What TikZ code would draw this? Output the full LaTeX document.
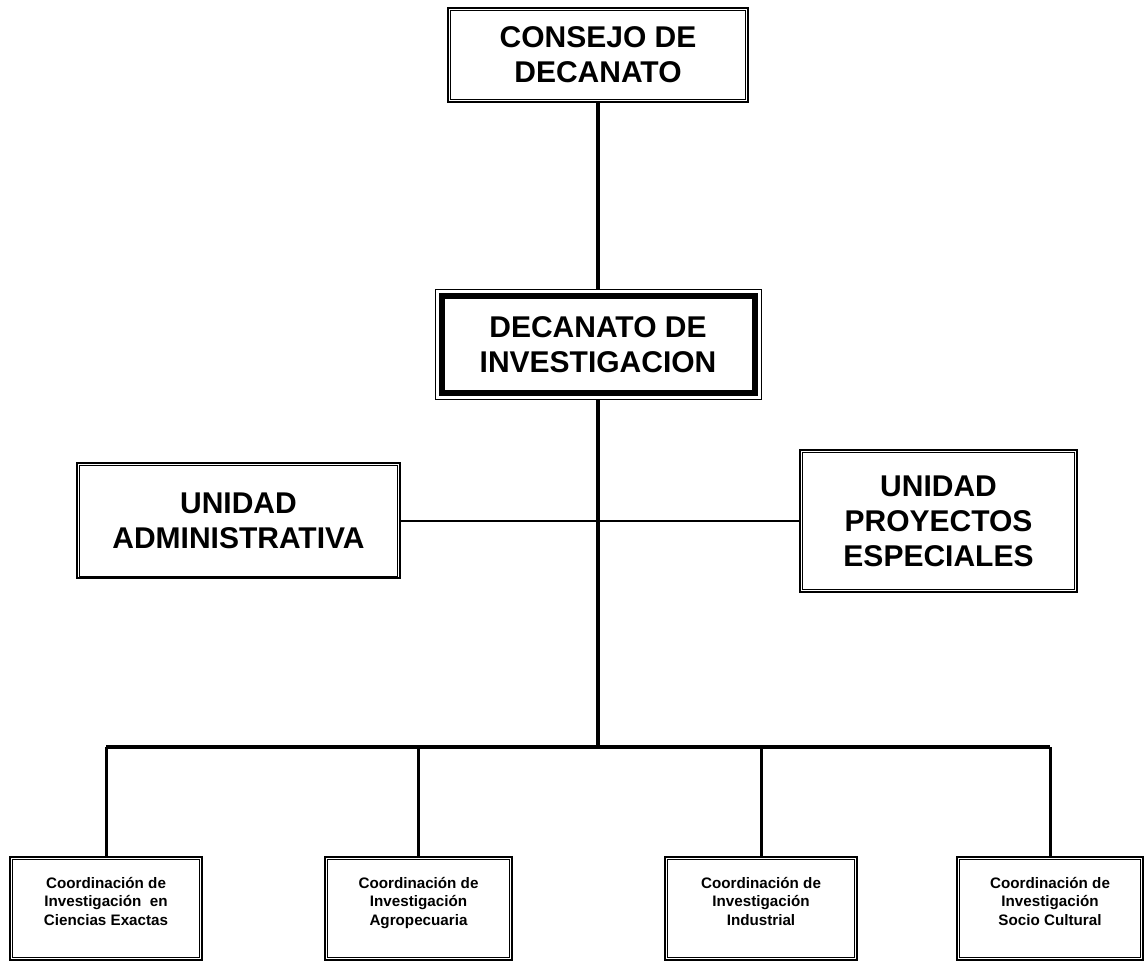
\documentclass[tikz,border=0pt]{standalone}
\usepackage{fontspec}
\setmainfont{Liberation Sans}
\tikzset{
  box/.style={draw, line width=1pt, align=center, inner sep=0pt,
    font=\fontsize{15}{17.5}\selectfont\bfseries},
  coord/.style={box, minimum height=51.5pt, text depth=7.5pt,
    font=\fontsize{7.6}{9.25}\selectfont\bfseries},
  inner/.style={line width=0.5pt},
  link/.style={line width=1.6pt},
  spine/.style={line width=2pt},
  unit/.style={line width=1pt},
  busline/.style={line width=2.3pt},
  drop/.style={line width=1.5pt},
}
\begin{document}
\begin{tikzpicture}[x=0.5pt, y=-0.5pt]
  \useasboundingbox (0,0) rectangle (1146,961);
  % boxes
  \node[box, minimum width=150pt, minimum height=47pt] (consejo) at (598,55) {CONSEJO DE\\DECANATO};
  \node[box, line width=0.5pt, minimum width=163pt, minimum height=55pt] (decanato) at (598,345) {DECANATO DE\\INVESTIGACION};
  \node[box, minimum width=161.5pt, minimum height=57.5pt] (adm) at (238.5,521) {UNIDAD\\ADMINISTRATIVA};
  \node[box, minimum width=138.5pt, minimum height=71pt] (proy) at (938.5,521) {UNIDAD\\PROYECTOS\\ESPECIALES};
  \node[coord, minimum width=96pt] (exactas) at (106,908.5) {Coordinación de\\Investigación \ en\\Ciencias Exactas};
  \node[coord, minimum width=93.5pt] (agro) at (418.5,908.5) {Coordinación de\\Investigación\\Agropecuaria};
  \node[coord, minimum width=96pt] (industrial) at (761,908.5) {Coordinación de\\Investigación\\Industrial};
  \node[coord, minimum width=93pt] (socio) at (1050,908.5) {Coordinación de\\Investigación\\Socio Cultural};
  % inner frames
  \foreach \n in {consejo,adm,proy,exactas,agro,industrial,socio}
    \draw[inner] ([shift={(1.6pt,-1.6pt)}]\n.north west) rectangle ([shift={(-1.6pt,1.6pt)}]\n.south east);
  \draw[line width=3pt] ([shift={(3.5pt,-3.5pt)}]decanato.north west) rectangle ([shift={(-3.5pt,3.5pt)}]decanato.south east);
  % connectors
  \coordinate (bus) at (598,747);
  \draw[link] (consejo) -- (decanato);
  \draw[spine] (decanato) -- (bus);
  \draw[unit] (adm) -- (proy);
  \draw[busline] (exactas.north |- bus) -- (socio.north |- bus);
  \foreach \n in {exactas,agro,industrial,socio}
    \draw[drop] (\n) -- (\n.north |- bus);
\end{tikzpicture}
\end{document}
